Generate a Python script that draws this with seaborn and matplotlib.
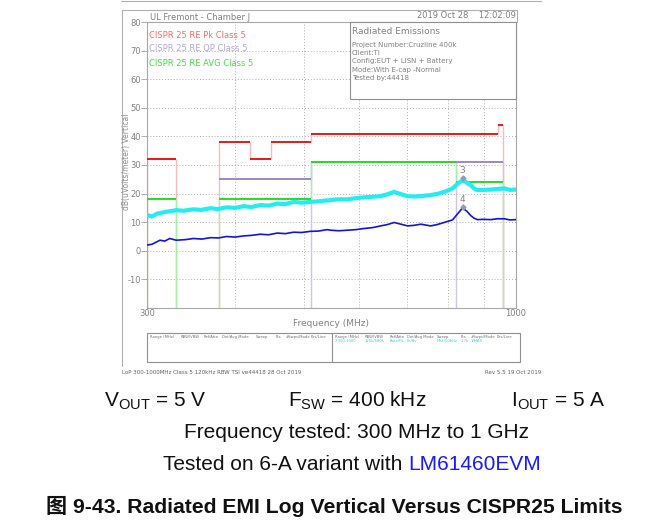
import numpy as np
import pandas as pd
import matplotlib.pyplot as plt
import seaborn as sns
from matplotlib.lines import Line2D
from matplotlib.patches import Rectangle
from matplotlib.ticker import FixedLocator, NullFormatter

sns.set_style("white")
plt.rcParams["font.family"] = ["Liberation Sans Narrow", "DejaVu Sans"]

W, H = 663, 527

# ===========================
# DADOS
# ===========================
freq_pk = [300, 305, 310, 316, 322, 330, 338, 349, 358, 369, 378, 389, 400, 411,
           422, 434, 446, 459, 471, 484, 497, 511, 525, 540, 560, 577, 593, 609,
           626, 643, 658, 672, 687, 702, 717, 733, 745, 757, 774, 791, 803, 813,
           827, 840, 852, 863, 872, 882, 900, 922, 940, 963, 980, 1000]
peak_db = [12.5, 12.0, 13.0, 13.4, 13.8, 14.2, 14.0, 14.5, 14.3, 14.9, 14.6, 15.2,
           15.0, 15.6, 15.3, 16.0, 15.8, 16.5, 16.3, 17.1, 16.8, 17.1, 17.3, 17.6,
           18.0, 18.0, 18.4, 18.7, 18.9, 19.1, 19.8, 20.6, 19.8, 19.1, 19.0, 19.1,
           19.3, 19.5, 19.9, 20.6, 21.2, 21.8, 23.5, 24.7, 23.8, 22.9, 21.8, 21.2,
           21.3, 21.4, 21.6, 21.8, 21.3, 21.4]

freq_av = [300, 305, 313, 318, 323, 330, 340, 349, 359, 369, 379, 389, 400, 411,
           422, 434, 446, 459, 471, 484, 497, 511, 525, 540, 546, 561, 577, 593,
           609, 626, 643, 658, 672, 687, 702, 717, 733, 745, 757, 774, 791, 803,
           813, 827, 840, 852, 863, 872, 882, 900, 922, 940, 963, 980, 1000]
avg_db = [2.0, 2.3, 3.7, 3.4, 4.3, 3.7, 3.9, 4.3, 4.1, 4.6, 4.5, 5.0, 4.8, 5.2,
          5.4, 5.8, 5.6, 6.2, 6.0, 6.5, 6.4, 6.8, 6.9, 7.4, 7.2, 7.0, 7.2, 7.4,
          7.8, 8.1, 8.7, 9.2, 9.9, 9.3, 8.7, 8.9, 9.3, 9.0, 8.7, 9.2, 9.9, 10.4,
          10.8, 13.0, 15.0, 13.8, 12.3, 11.4, 10.9, 11.0, 10.9, 11.2, 11.2, 10.8, 10.9]

# limites CISPR 25 classe 5 (início, fim, nível)
pk_start = [300, 380, 420, 450, 512, 944]
pk_stop = [330, 420, 450, 512, 944, 960]
pk_level = [32, 38, 32, 38, 41, 44]
pk_drop = [300, 330, 380, 960]

qp_start = [380, 512]
qp_stop = [512, 960]
qp_level = [25, 31]
qp_drop = [512, 822, 960]

av_start = [300, 380, 512, 822]
av_stop = [330, 512, 822, 960]
av_level = [18, 18, 31, 24]
av_drop = [300, 330, 380, 960]

marker_freq = [840, 840]
marker_db = [25.4, 15.2]
marker_ids = ["3", "4"]

y_ticks = [-10, 0, 10, 20, 30, 40, 50, 60, 70, 80]
x_grid = [400, 500, 600, 700, 800, 900]


def fx(x):
    return x / W


def fy(y):
    return 1 - y / H


def level_at(f, starts, stops, levels):
    vals = [lv for a, b, lv in zip(starts, stops, levels) if a <= f <= b]
    return max(vals)


fig = plt.figure(figsize=(W / 100, H / 100), dpi=100)
ax = fig.add_axes([fx(147), fy(308), (516 - 147) / W, (308 - 22) / H])
ax.set_xscale("log")

limits = [
    (pk_start, pk_stop, pk_level, pk_drop, "#e81818", "#ffb8b8"),
    (qp_start, qp_stop, qp_level, qp_drop, "#9a88c8", "#cfc6e6"),
    (av_start, av_stop, av_level, av_drop, "#22e022", "#a8f0a8"),
]
z = 2
for starts, stops, levels, drops, dark, light in limits:
    # linhas verticais até o fundo
    tops = [level_at(f, starts, stops, levels) for f in drops]
    ax.vlines(drops, -20, tops, color=light, lw=1.0, zorder=z)
    # degraus entre faixas adjacentes
    for i in range(len(starts) - 1):
        if stops[i] == starts[i + 1]:
            ax.vlines(stops[i], min(levels[i], levels[i + 1]),
                      max(levels[i], levels[i + 1]), color=light, lw=1.0, zorder=z)
    z += 0.1
for starts, stops, levels, drops, dark, light in limits:
    ax.hlines(levels, starts, stops, color=dark, lw=1.4, zorder=3)

pk_df = pd.DataFrame({"freq": freq_pk, "db": peak_db})
av_df = pd.DataFrame({"freq": freq_av, "db": avg_db})
sns.lineplot(data=pk_df, x="freq", y="db", ax=ax, color="#22eef2", lw=3.0, zorder=4)
sns.lineplot(data=av_df, x="freq", y="db", ax=ax, color="#1414d8", lw=1.2, zorder=5)

ax.scatter(marker_freq, marker_db, marker="D", s=6, color="#8aa0b0", zorder=6)
for f, d, t in zip(marker_freq, marker_db, marker_ids):
    ax.text(f, d + 1.2, t, ha="center", va="bottom", fontsize=6.5, color="#808080")

ax.set_xlim(300, 1000)
ax.set_ylim(-20, 80)
ax.set_xlabel("")
ax.set_ylabel("")

ax.set_yticks(y_ticks)
ax.set_yticklabels([str(t) for t in y_ticks])
ax.set_xticks([300, 1000])
ax.set_xticklabels(["300", "1000"])
ax.xaxis.set_minor_locator(FixedLocator(x_grid))
ax.xaxis.set_minor_formatter(NullFormatter())
ax.tick_params(axis="y", length=4, width=0.6, color="#a0a0a0", labelsize=6,
               labelcolor="#808080", pad=0.5, left=True)
ax.tick_params(axis="x", which="both", length=0, labelsize=6, labelcolor="#808080", pad=1)
ax.grid(axis="y", which="major", ls=(0, (1, 2)), color="#b0b0b0", lw=0.7)
ax.grid(axis="x", which="minor", ls=(0, (1, 2)), color="#b0b0b0", lw=0.7)
for s in ax.spines.values():
    s.set_color("#a8a8a8")
    s.set_linewidth(0.8)

# ===========================
# TEXTOS DO RELATÓRIO
# ===========================
grey = "#808080"
fig.text(fx(150), fy(17), "UL Fremont - Chamber J", fontsize=6, color=grey, va="center")
fig.text(fx(516), fy(16), "2019 Oct 28    12:02:09", fontsize=6, color=grey,
         va="center", ha="right")
fig.text(fx(149), fy(36), "CISPR 25 RE Pk Class 5", fontsize=6, color="#ff6a6a", va="center")
fig.text(fx(149), fy(49), "CISPR 25 RE QP Class 5", fontsize=6, color="#b4a8d8", va="center")
fig.text(fx(149), fy(63), "CISPR 25 RE AVG Class 5", fontsize=6, color="#40e040", va="center")

fig.text(fx(127), fy(162), "dB(uVolts/meter) Vertical", fontsize=5.5, color="#909090",
         rotation=90, ha="center", va="center")
fig.text(fx(331), fy(324), "Frequency (MHz)", fontsize=6.5, color=grey,
         ha="center", va="center")

# caixa de informações
fig.add_artist(Rectangle((fx(350), fy(99)), (516 - 350) / W, (99 - 22) / H,
                         facecolor="white", edgecolor="#909090", lw=0.8,
                         transform=fig.transFigure, zorder=5))
info = ["Project Number:Cruzline 400k", "Client:TI", "Config:EUT + LISN + Battery",
        "Mode:With E-cap -Normal", "Tested by:44418"]
fig.text(fx(352), fy(32), "Radiated Emissions", fontsize=6.5, color=grey, va="center", zorder=6)
for i, line in enumerate(info):
    fig.text(fx(352), fy(44.5 + 8.4 * i), line, fontsize=5, color=grey, va="center", zorder=6)

# moldura
for x0, y0, x1, y1 in [(121, 1, 541, 1), (122, 10, 517, 10), (122, 10, 122, 366),
                       (517, 10, 517, 22)]:
    fig.add_artist(Line2D([fx(x0), fx(x1)], [fy(y0), fy(y1)], color="#b0b0b0", lw=0.8,
                          transform=fig.transFigure))

# tabela de configuração
fig.add_artist(Rectangle((fx(147), fy(362)), (520 - 147) / W, (362 - 333) / H,
                         facecolor="none", edgecolor="#909090", lw=0.8,
                         transform=fig.transFigure))
fig.add_artist(Line2D([fx(332), fx(332)], [fy(333), fy(362)], color="#909090", lw=0.8,
                      transform=fig.transFigure))
headers = ["Range (MHz)", "RBW/VBW", "Ref/Attn", "Det/Avg Mode", "Sweep", "Pts",
           "#Swps/Mode", "Pos/Line"]
left_x = [150, 181, 204, 222, 256, 276, 286, 311]
right_x = [335, 365, 390, 407, 437, 461, 471, 497]
values = ["2:300-1000", "120k/680k", "Auto/Pk", "Pk/Av", "Max/50kHz", "1.7k", "1/MAX", ""]
for h, xl, xr, v in zip(headers, left_x, right_x, values):
    fig.text(fx(xl), fy(337), h, fontsize=2.7, color="#707070", va="center")
    fig.text(fx(xr), fy(337), h, fontsize=2.7, color="#707070", va="center")
    fig.text(fx(xr), fy(341.5), v, fontsize=2.7, color="#30d8f0", va="center")

fig.text(fx(122), fy(373), "LoP 300-1000MHz Class 5 120kHz RBW TSI ve44418 28 Oct 2019",
         fontsize=4, color="#606060", va="center")
fig.text(fx(541), fy(373), "Rev 5.5 19 Oct 2019", fontsize=4, color="#606060",
         va="center", ha="right")

# ===========================
# LEGENDA DA FIGURA
# ===========================
cap = dict(family=["Liberation Sans", "Noto Sans CJK SC"], fontsize=15, color="#111111")
fig.text(fx(155), fy(401), r"V$_{\mathregular{OUT}}$ = 5 V", ha="center", va="center", **cap)
fig.text(fx(357), fy(401), r"F$_{\mathregular{SW}}$ = 400 kHz", ha="center", va="center", **cap)
fig.text(fx(558), fy(401), r"I$_{\mathregular{OUT}}$ = 5 A", ha="center", va="center", **cap)
fig.text(fx(356), fy(432), "Frequency tested: 300 MHz to 1 GHz", ha="center", va="center", **cap)
t1 = fig.text(fx(163), fy(464), "Tested on 6-A variant with ", ha="left", va="center", **cap)
fig.canvas.draw()
bb = t1.get_window_extent()
fig.text(bb.x1 / fig.dpi / fig.get_figwidth(), fy(464), "LM61460EVM", ha="left",
         va="center", family=["Liberation Sans"], fontsize=15, color="#1a1aff")
fig.text(fx(334), fy(506), "图 9-43. Radiated EMI Log Vertical Versus CISPR25 Limits",
         ha="center", va="center", fontweight="bold",
         family=["Liberation Sans", "Noto Sans CJK SC"], fontsize=15.2, color="#111111")

fig.savefig("out.png", dpi=100)
